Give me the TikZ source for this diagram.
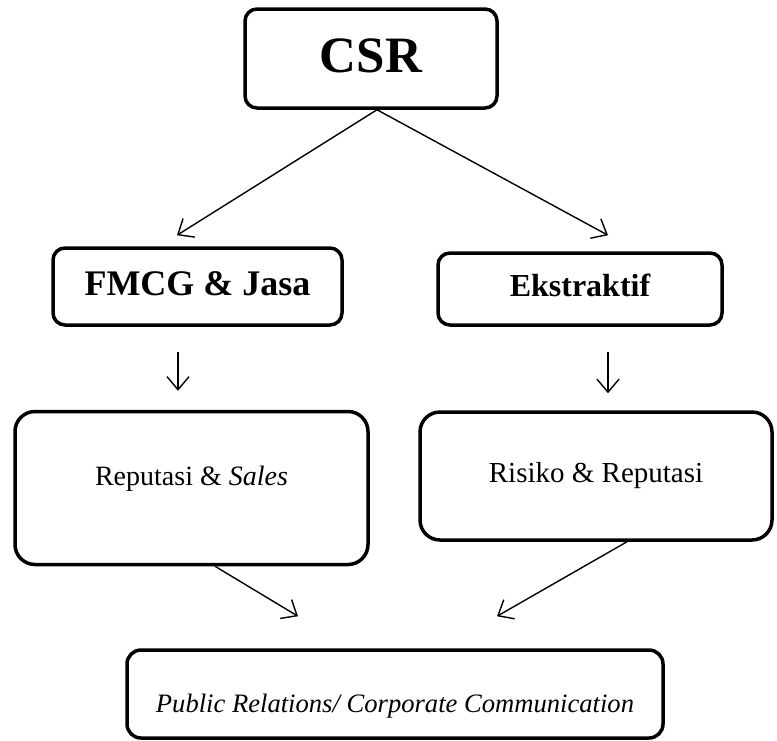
\documentclass[tikz,border=0pt]{standalone}
\usepackage{fontspec}
\setmainfont{Liberation Serif}
\usetikzlibrary{arrows.meta}
\begin{document}
\begin{tikzpicture}[x=1pt,y=-1pt,
  box/.style={draw, line width=3.5pt, rounded corners=#1, inner sep=0pt, align=center},
  box/.default=12pt,
  arr/.style={line width=1.4pt, -{Straight Barb[length=13pt,width=22pt,line width=1.4pt]}}]
\useasboundingbox (0,0) rectangle (777,740);
\node[box, minimum width=252pt, minimum height=99pt, text height=27pt, text depth=0pt, font=\fontsize{51}{60}\selectfont\bfseries] (csr) at (371,58.5) {CSR};
\node[box, minimum width=289pt, minimum height=77pt, text height=17pt, text depth=0pt, font=\fontsize{36}{42}\selectfont\bfseries] (fmcg) at (197.5,286.5) {FMCG \& Jasa};
\node[box, minimum width=284pt, minimum height=72pt, text height=14pt, text depth=0pt, font=\fontsize{32}{38}\selectfont\bfseries] (ekstr) at (580,289) {Ekstraktif};
\node[box=20pt, minimum width=353pt, minimum height=153pt, text height=0pt, text depth=6pt, font=\fontsize{28}{34}\selectfont] (rep) at (191.5,488) {Reputasi \& \textit{Sales}};
\node[box=20pt, minimum width=352pt, minimum height=128pt, text height=12pt, text depth=0pt, font=\fontsize{29}{35}\selectfont] (risk) at (596,476) {Risiko \& Reputasi};
\node[box=14pt, minimum width=536pt, minimum height=88pt, text height=36pt, text depth=0pt, font=\fontsize{26.6}{32}\selectfont\itshape] (pr) at (395,694) {Public Relations/ Corporate Communication};
\draw[arr] ([xshift=6pt]csr.south) -- ([xshift=-20.5pt,yshift=11pt]fmcg.north);
\draw[arr] ([xshift=6pt]csr.south) -- ([xshift=28pt,yshift=16pt]ekstr.north);
\draw[arr] ([xshift=-19.5pt,yshift=-25pt]fmcg.south) -- ([xshift=-13.5pt,yshift=19pt]rep.north);
\draw[arr] ([xshift=28pt,yshift=-25pt]ekstr.south) -- ([xshift=12pt,yshift=17pt]risk.north);
\draw[arr] ([xshift=23.5pt]rep.south) -- ([xshift=-97pt,yshift=32pt]pr.north);
\draw[arr] ([xshift=31pt]risk.south) -- ([xshift=102pt,yshift=32pt]pr.north);
\end{tikzpicture}
\end{document}
